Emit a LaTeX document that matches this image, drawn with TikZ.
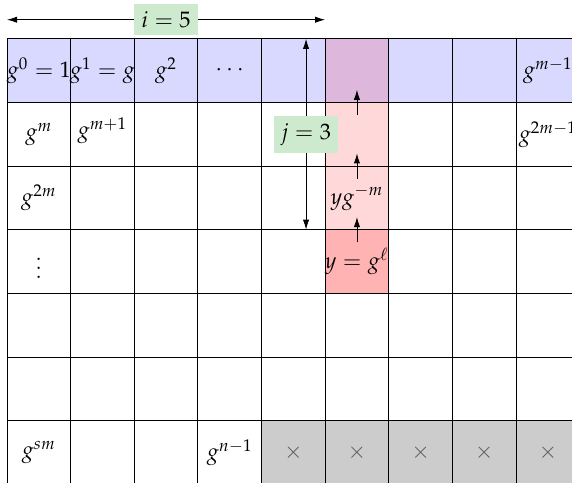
\documentclass[tikz,border=0pt]{standalone}
\usepackage{mathpazo}
\usetikzlibrary{arrows.meta}

\definecolor{rowblue}{RGB}{217,217,255}
\definecolor{colpink}{RGB}{255,217,217}
\definecolor{colred}{RGB}{255,179,179}
\definecolor{colmix}{RGB}{221,184,220}
\definecolor{taggreen}{RGB}{206,234,206}

\begin{document}
\begin{tikzpicture}[>={Latex[length=4.5pt,width=2.8pt]}]
  % 表示範囲 (右端と下端は切れている)
  \useasboundingbox (-0.11,-6.98) rectangle (8.88,0.61);

  % マスの塗りつぶし
  \fill[rowblue] (0,0) rectangle (9,-1);
  \fill[colmix]  (5,0) rectangle (6,-1);
  \fill[colpink] (5,-1) rectangle (6,-3);
  \fill[colred]  (5,-3) rectangle (6,-4);
  \fill[black!20] (4,-6) rectangle (9,-7);

  % 格子
  \draw (0,0) grid (9,-7);

  % 1 行目
  \node (a0) at (0.5,-0.5) {$g^0=1$};
  \node (a1) at (1.5,-0.5) {$g^1=g$};
  \node (a2) at (2.5,-0.5) {$g^2$};
  \node (a3) at (3.5,-0.5) {$\cdots$};
  \node (a8) at (8.5,-0.5) {$g^{m-1}$};

  % 2 行目以降
  \node (b0) at (0.5,-1.5) {$g^m$};
  \node (b1) at (1.5,-1.45) {$g^{m+1}$};
  \node (b8) at (8.5,-1.5) {$g^{2m-1}$};
  \node (c0) at (0.5,-2.5) {$g^{2m}$};
  \node (d0) at (0.5,-3.5) {$\vdots$};
  \node (c5) at (5.5,-2.5) {$yg^{-m}$};
  \node (d5) at (5.5,-3.5) {$y=g^\ell$};

  % 最終行
  \node (g0) at (0.5,-6.5) {$g^{sm}$};
  \node (g3) at (3.5,-6.5) {$g^{n-1}$};
  \foreach \c in {4,...,8}
    \node[text=black!65] (x\c) at (\c+0.5,-6.5) {$\times$};

  % 横方向 i
  \coordinate (iL) at (0,0.3);
  \coordinate (iR) at (5,0.3);
  \draw[<->] (iL) -- (iR);
  \node[fill=taggreen] (ilabel) at (2.5,0.3) {$i=5$};

  % 縦方向 j
  \coordinate (jT) at (4.7,0);
  \coordinate (jB) at (4.7,-3);
  \draw[<->] (jT) -- (jB);
  \node[fill=taggreen] (jlabel) at (4.7,-1.5) {$j=3$};

  % 上へ進む小さな矢印
  \foreach \k in {1,2,3} {
    \coordinate (s\k) at (5.5,-\k-0.2);
    \coordinate (t\k) at (5.5,-\k+0.2);
    \draw[->] (s\k) -- (t\k);
  }

\end{tikzpicture}
\end{document}
